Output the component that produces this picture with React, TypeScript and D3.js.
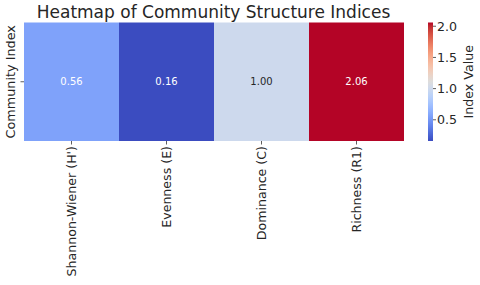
import React from "react";
import * as d3 from "d3";

const categories = ["Shannon-Wiener (H')", "Evenness (E)", "Dominance (C)", "Richness (R1)"];
const values = [0.56, 0.16, 1.0, 2.06];
const rowLabels = [""];
const cbarTicks = [0.5, 1.0, 1.5, 2.0];

const coolwarm = [
  [59, 76, 192], [68, 90, 204], [77, 104, 215], [87, 117, 225], [98, 130, 234],
  [108, 142, 241], [119, 154, 247], [130, 165, 251], [141, 176, 254], [152, 185, 255],
  [163, 194, 255], [174, 201, 253], [184, 208, 249], [194, 213, 244], [204, 217, 238],
  [213, 219, 230], [221, 221, 221], [229, 216, 209], [236, 211, 197], [241, 204, 185],
  [245, 196, 173], [247, 187, 160], [247, 177, 148], [247, 166, 135], [244, 154, 123],
  [241, 141, 111], [236, 127, 99], [229, 112, 88], [222, 96, 77], [213, 80, 66],
  [203, 62, 56], [192, 40, 47], [180, 4, 38],
].map(([r, g, b]) => `rgb(${r},${g},${b})`);

export default function App() {
  const W = 480, H = 285;
  const left = 24, right = 404, top = 22.5, bottom = 141;
  const vmin = d3.min(values)!, vmax = d3.max(values)!;
  const interp = d3.piecewise(d3.interpolateRgb, coolwarm);
  const color = (v: number) => interp((v - vmin) / (vmax - vmin));
  const x = d3.scaleBand<string>().domain(categories).range([left, right]);
  const y = d3.scaleBand<string>().domain(rowLabels).range([top, bottom]);
  const cbX = 428, cbW = 5;
  const cy = d3.scaleLinear().domain([vmin, vmax]).range([bottom, top]);
  const font = "DejaVu Sans, sans-serif";
  const nStops = 40;
  const stops = d3.range(nStops + 1).map((i) => i / nStops);
  return (
    <svg width={W} height={H} style={{ position: "absolute", left: 0, top: 0 }} fontFamily={font}>
      <defs>
        <linearGradient id="cb" x1="0" y1="1" x2="0" y2="0">
          {stops.map((s) => (
            <stop key={s} offset={s} stopColor={interp(s)} />
          ))}
        </linearGradient>
      </defs>
      <rect width={W} height={H} fill="#fff" />
      <text x={213.5} y={17.5} textAnchor="middle" fontSize={17} fill="#262626">
        Heatmap of Community Structure Indices
      </text>
      {categories.map((c, i) => (
        <g key={c}>
          <rect x={x(c)} y={y("")} width={x.bandwidth()} height={y.bandwidth()} fill={color(values[i])} />
          <text
            x={x(c)! + x.bandwidth() / 2}
            y={y("")! + y.bandwidth() / 2}
            dy="0.35em"
            textAnchor="middle"
            fontSize={10}
            fill={values[i] > 0.75 && values[i] < 1.4 ? "#262626" : "#ffffff"}
          >
            {values[i].toFixed(2)}
          </text>
          <line x1={x(c)! + x.bandwidth() / 2} x2={x(c)! + x.bandwidth() / 2} y1={bottom} y2={bottom + 3.5} stroke="#333" strokeWidth={0.8} />
          <text
            transform={`translate(${x(c)! + x.bandwidth() / 2},${bottom + 5}) rotate(-90)`}
            dy="0.35em"
            textAnchor="end"
            fontSize={12.6}
            fill="#262626"
          >
            {c}
          </text>
        </g>
      ))}
      <line x1={left - 3.5} x2={left} y1={y("")! + y.bandwidth() / 2} y2={y("")! + y.bandwidth() / 2} stroke="#333" strokeWidth={0.8} />
      <text
        transform={`translate(${11},${(top + bottom) / 2}) rotate(-90)`}
        dy="0.35em"
        textAnchor="middle"
        fontSize={12.8}
        fill="#262626"
      >
        Community Index
      </text>
      <rect x={cbX} y={top} width={cbW} height={bottom - top} fill="url(#cb)" />
      {cbarTicks.map((t) => (
        <g key={t}>
          <line x1={cbX + cbW} x2={cbX + cbW + 3} y1={cy(t)} y2={cy(t)} stroke="#333" strokeWidth={0.8} />
          <text x={cbX + cbW + 4} y={cy(t)} dy="0.35em" fontSize={12.6} fill="#262626">
            {t.toFixed(1)}
          </text>
        </g>
      ))}
      <text
        transform={`translate(${469},${(top + bottom) / 2}) rotate(-90)`}
        dy="0.35em"
        textAnchor="middle"
        fontSize={12.6}
        fill="#262626"
      >
        Index Value
      </text>
    </svg>
  );
}
